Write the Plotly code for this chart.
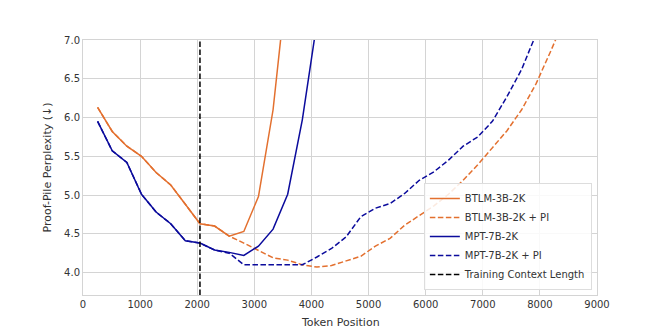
import plotly.graph_objects as go

ORANGE = "#E3702F"
BLUE = "#0B0B9C"
GRID = "#D4D4D4"
TEXT = "#333333"

positions = [256 * i for i in range(1, 34)]

btlm = [6.13, 5.82, 5.63, 5.50, 5.29, 5.13, 4.88, 4.63, 4.60, 4.47, 4.53,
        4.98, 6.10, 7.85]
btlm_pi = [6.13, 5.82, 5.63, 5.50, 5.29, 5.13, 4.88, 4.63, 4.60, 4.47, 4.38,
           4.28, 4.19, 4.16, 4.10, 4.07, 4.09, 4.15, 4.21, 4.34, 4.44, 4.61,
           4.73, 4.86, 5.01, 5.19, 5.39, 5.61, 5.83, 6.10, 6.44, 6.86, 7.30]
mpt = [5.95, 5.57, 5.42, 5.01, 4.78, 4.63, 4.41, 4.38, 4.29, 4.26, 4.22,
       4.34, 4.56, 5.01, 5.97, 7.23]
mpt_pi = [5.95, 5.57, 5.42, 5.01, 4.78, 4.63, 4.41, 4.38, 4.29, 4.25, 4.10,
          4.10, 4.10, 4.10, 4.10, 4.20, 4.31, 4.46, 4.72, 4.83, 4.89, 5.02,
          5.19, 5.30, 5.45, 5.63, 5.75, 5.95, 6.27, 6.62, 7.08]

train_len = 2048

x_ticks = [0, 1000, 2000, 3000, 4000, 5000, 6000, 7000, 8000, 9000]
y_ticks = [4.0, 4.5, 5.0, 5.5, 6.0, 6.5, 7.0]

DASH = "5.5px,2.5px"

fig = go.Figure()

series = [
    ("BTLM-3B-2K", btlm, ORANGE, "solid"),
    ("BTLM-3B-2K + PI", btlm_pi, ORANGE, DASH),
    ("MPT-7B-2K", mpt, BLUE, "solid"),
    ("MPT-7B-2K + PI", mpt_pi, BLUE, DASH),
]
for name, vals, color, dash in series:
    fig.add_trace(go.Scatter(
        x=positions[:len(vals)], y=vals, mode="lines", name=name,
        line=dict(color=color, width=1.5, dash=dash),
    ))

fig.add_trace(go.Scatter(
    x=[train_len, train_len], y=[3.71, 7.0], mode="lines",
    name="Training Context Length",
    line=dict(color="black", width=1.5, dash=DASH),
))

axis_common = dict(
    showgrid=True, gridcolor=GRID, gridwidth=1,
    showline=True, linecolor=GRID, linewidth=1, mirror=True,
    zeroline=False, ticks="", tickfont=dict(size=10, color=TEXT),
    automargin=False,
)

# the page body adds an 8px offset, so the figure is sized to fit after it
fig.update_layout(
    width=656, height=324,
    paper_bgcolor="white", plot_bgcolor="white",
    font=dict(family="DejaVu Sans", color=TEXT, size=10),
    margin=dict(l=75, r=67, t=32, b=37),
    showlegend=True,
    legend=dict(
        x=0.99, y=0.02, xanchor="right", yanchor="bottom",
        bgcolor="rgba(255,255,255,0.85)", bordercolor="#DDDDDD", borderwidth=1,
        font=dict(size=10, color=TEXT), tracegroupgap=0,
        itemwidth=30,
    ),
    xaxis=dict(**axis_common, range=[0, 9000], tickvals=x_ticks),
    yaxis=dict(**axis_common, range=[3.71, 7.0], tickvals=y_ticks,
               tickformat=".1f"),
    annotations=[
        dict(text="Token Position", xref="paper", yref="paper",
             x=0.5, y=-0.108, xanchor="center", yanchor="middle",
             showarrow=False, font=dict(size=11, color=TEXT)),
        dict(text="Proof-Pile Perplexity (↓)", xref="paper", yref="paper",
             x=-0.07, y=0.5, xanchor="center", yanchor="middle",
             textangle=-90, showarrow=False, font=dict(size=11, color=TEXT)),
    ],
)

fig.write_html("out.html")
